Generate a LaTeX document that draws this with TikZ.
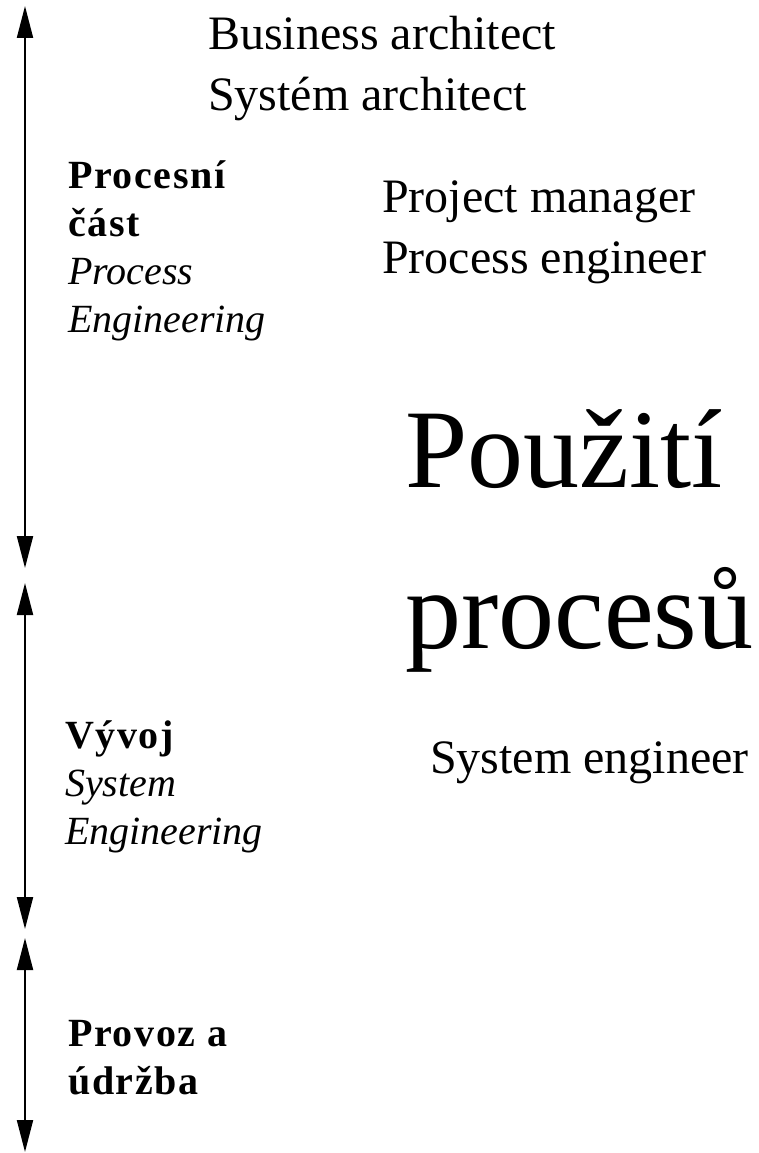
\documentclass[tikz,border=0pt]{standalone}
\usepackage{fontspec}
\setmainfont{Liberation Serif}
\newfontfamily\spacedfont{Liberation Serif}[LetterSpace=4]
\usetikzlibrary{arrows.meta}

\begin{document}
\begin{tikzpicture}[x=1pt, y=1pt,
               role_style/.style={anchor=base west, inner sep=0pt, align=left, font=\fontsize{48}{61}\selectfont},
               phase_style/.style={anchor=base west, inner sep=0pt, align=left, font=\fontsize{40}{48}\selectfont},
               title_style/.style={anchor=base west, inner sep=0pt, align=left, font=\fontsize{112}{161}\selectfont},
               arrow_style/.style={{Triangle[width=16pt,length=32pt]}-{Triangle[width=16pt,length=32pt]}, line width=2pt}]
                \useasboundingbox (0,0) rectangle (759,-1153);

                \coordinate (a0) at (25,-6);
                \coordinate (a1) at (25,-568);
                \coordinate (a2) at (25,-583);
                \coordinate (a3) at (25,-929);
                \coordinate (a4) at (25,-938);
                \coordinate (a5) at (25,-1152);

                \draw[arrow_style]  (a0) -- (a1);
                \draw[arrow_style]  (a2) -- (a3);
                \draw[arrow_style]  (a4) -- (a5);

                % base anchor sits on the last line
                \node[role_style] (arch) at (208,-111) {Business architect\\Systém architect};
                \node[role_style] (mgr) at (382,-273) {Project manager\\Process engineer};
                \node[title_style] (use) at (405,-648) {Použití\\procesů};
                \node[role_style] (eng) at (430,-773) {System engineer};

                \node[phase_style] (proc) at (68,-332) {{\spacedfont\bfseries Procesní}\\{\spacedfont\bfseries část}\\\textit{Process}\\\textit{Engineering}};
                \node[phase_style] (dev) at (65,-844) {{\spacedfont\bfseries Vývoj}\\\textit{System}\\\textit{Engineering}};
                \node[phase_style] (ops) at (68,-1094) {{\spacedfont\bfseries Provoz a}\\{\spacedfont\bfseries údržba}};
            \end{tikzpicture}
\end{document}
